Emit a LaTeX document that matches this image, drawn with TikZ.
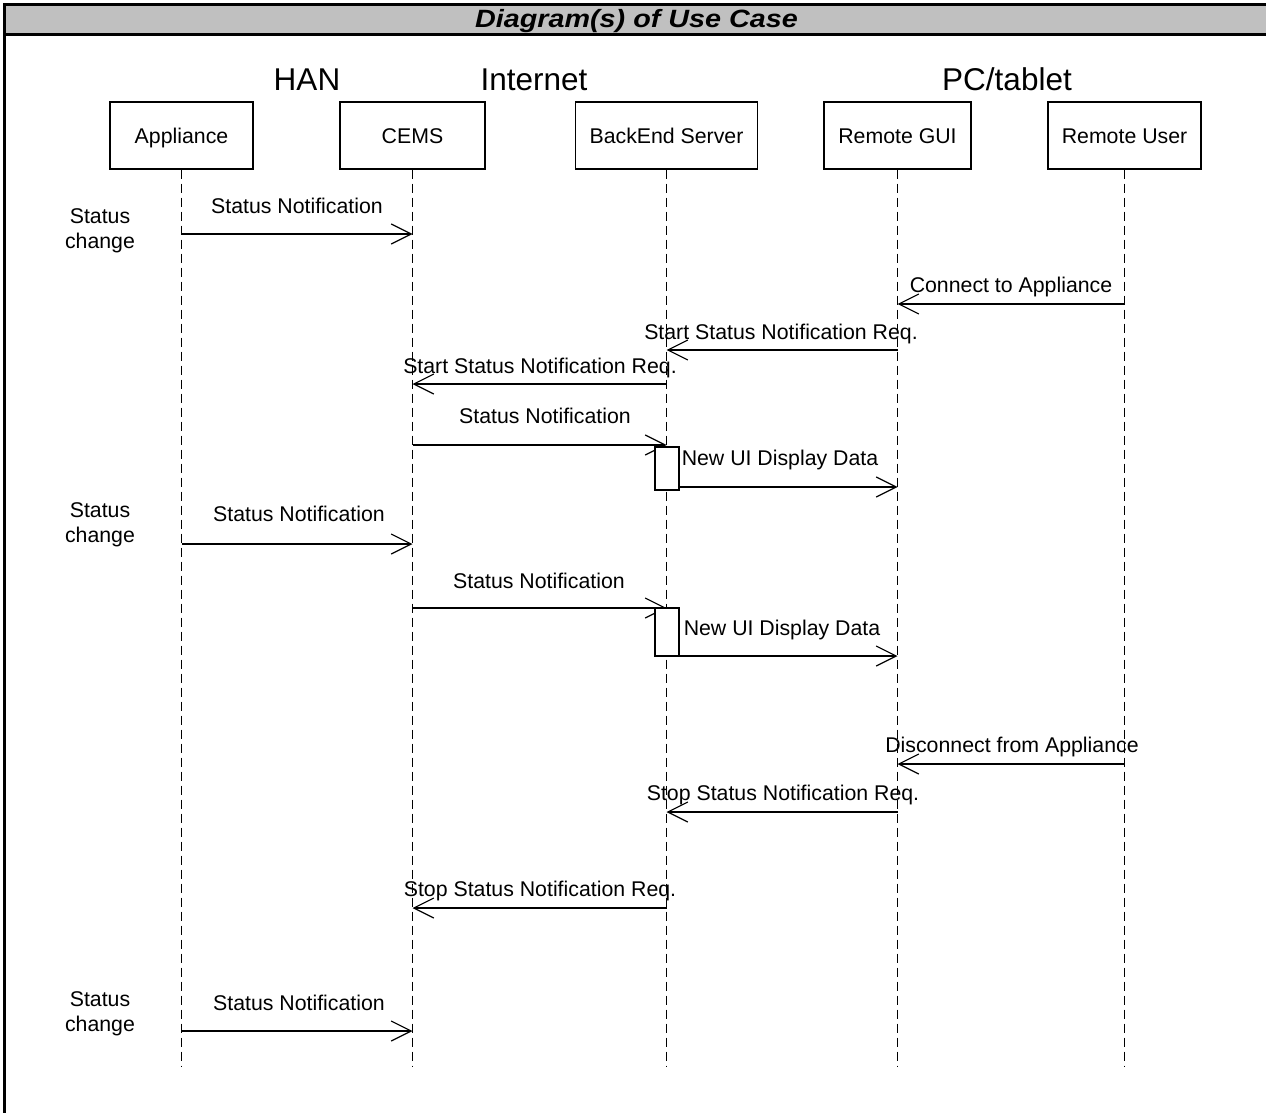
\documentclass[tikz,border=0pt]{standalone}
\usepackage{graphicx}
\usepackage{fontspec}
\setmainfont{Liberation Sans}
\usetikzlibrary{arrows.meta}
\definecolor{barfill}{HTML}{C0C0C0}
\begin{document}
\begin{tikzpicture}[x=1pt,y=-1pt,
  lbl/.style={font=\fontsize{21.3}{25}\selectfont, inner sep=0pt, anchor=base},
  twoline/.style={font=\fontsize{21.3}{25.5}\selectfont, inner sep=0pt, align=center},
  zone/.style={font=\fontsize{31.5}{36}\selectfont, inner sep=0pt, anchor=base},
  actor/.style={draw, line width=1.2pt, minimum height=67pt, inner sep=0pt,
                text height=15.3pt, text depth=0pt,
                font=\fontsize{21.3}{25}\selectfont},
  life/.style={line width=1.1pt, dash pattern=on 9pt off 5pt},
  msg/.style={line width=1.2pt, -{Straight Barb[length=20pt,width=20pt]}},
  act/.style={draw, fill=white, line width=1.2pt, minimum width=24pt, inner sep=0pt}]

\useasboundingbox (0,0) rectangle (1266,1113);

% table header
\fill[barfill] (5,4) rectangle (1266,34.5);
\draw[line width=3pt] (1266,4.5) -- (4.5,4.5) -- (4.5,1113);
\draw[line width=3pt] (4.5,34.5) -- (1266,34.5);
\node[inner sep=0pt, anchor=base] (title) at (636.5,28)
  {\scalebox{1.15}[1]{\fontsize{25}{28}\selectfont\bfseries\itshape Diagram(s) of Use Case}};

% network zones
\node[zone] (han) at (307,91) {HAN};
\node[zone] (inet) at (534,91) {Internet};
\node[zone] (pc) at (1007,91) {PC/tablet};

% participants
\node[actor, minimum width=143pt] (app)  at (181.5,135.5) {Appliance};
\node[actor, minimum width=145pt] (cems) at (412.5,135.5) {CEMS};
\node[actor, minimum width=182pt] (be)   at (666.5,135.5) {BackEnd Server};
\node[actor, minimum width=147pt] (gui)  at (897.5,135.5) {Remote GUI};
\node[actor, minimum width=153pt] (usr)  at (1124.5,135.5) {Remote User};

% lifelines
\foreach \p in {app,cems,be,gui,usr}
  \draw[life] (\p.south) -- (\p.south |- 0,1066);

% status change markers
\node[twoline] (sc1) at (100,231) {Status\\change};
\node[twoline] (sc2) at (100,525) {Status\\change};
\node[twoline] (sc3) at (100,1014) {Status\\change};

% messages
\draw[msg] (app |- 0,234) -- (cems |- 0,234);
\node[lbl] (t1) at (297,213) {Status Notification};

\draw[msg] (usr |- 0,304) -- (gui |- 0,304);
\node[lbl] (t2) at (1011,292) {Connect to Appliance};

\draw[msg] (gui |- 0,350) -- (be |- 0,350);
\node[lbl] (t3) at (781,339) {Start Status Notification Req.};

\draw[msg] (be |- 0,384) -- (cems |- 0,384);
\node[lbl] (t4) at (540,373) {Start Status Notification Req.};

\draw[msg] (cems |- 0,445) -- (be |- 0,445);
\node[lbl] (t5) at (545,423) {Status Notification};

\node[act, minimum height=43pt] (act1) at (667,468.5) {};
\draw[msg] (act1.east |- 0,487) -- (gui |- 0,487);
\node[lbl] (t6) at (780,465) {New UI Display Data};

\draw[msg] (app |- 0,544) -- (cems |- 0,544);
\node[lbl] (t7) at (299,521) {Status Notification};

\draw[msg] (cems |- 0,608) -- (be |- 0,608);
\node[lbl] (t8) at (539,588) {Status Notification};

\node[act, minimum height=48pt] (act2) at (667,632) {};
\draw[msg] (act2.east |- 0,656) -- (gui |- 0,656);
\node[lbl] (t9) at (782,635) {New UI Display Data};

\draw[msg] (usr |- 0,764) -- (gui |- 0,764);
\node[lbl] (t10) at (1012,752) {Disconnect from Appliance};

\draw[msg] (gui |- 0,812) -- (be |- 0,812);
\node[lbl] (t11) at (783,800) {Stop Status Notification Req.};

\draw[msg] (be |- 0,908) -- (cems |- 0,908);
\node[lbl] (t12) at (540,896) {Stop Status Notification Req.};

\draw[msg] (app |- 0,1031) -- (cems |- 0,1031);
\node[lbl] (t13) at (299,1010) {Status Notification};

\end{tikzpicture}
\end{document}
